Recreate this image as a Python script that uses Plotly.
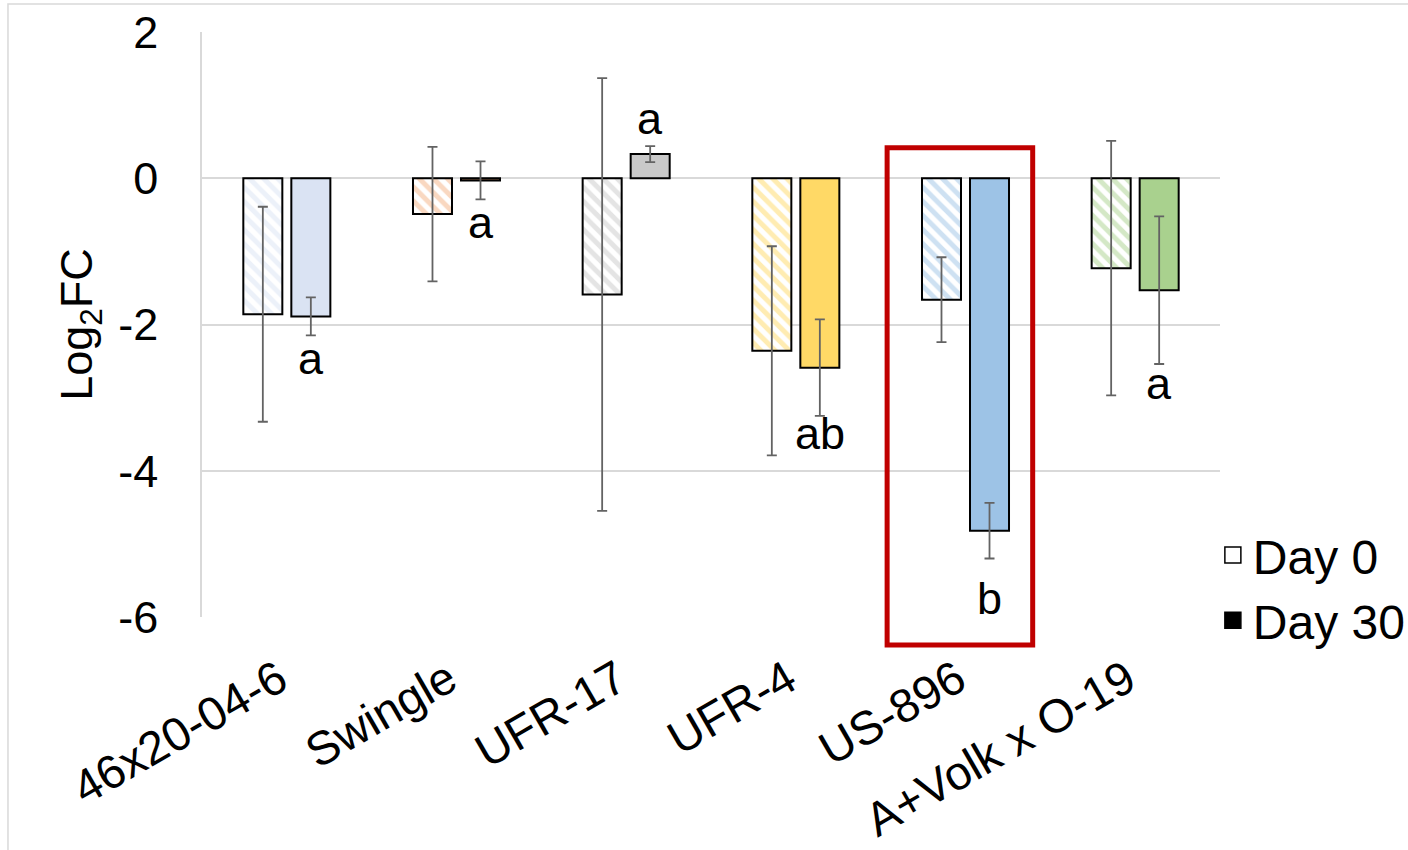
import plotly.graph_objects as go

categories = ["46x20-04-6", "Swingle", "UFR-17", "UFR-4", "US-896", "A+Volk x O-19"]
day0 = [-1.86, -0.49, -1.59, -2.36, -1.66, -1.23]
day0_err = [1.47, 0.92, 2.96, 1.43, 0.58, 1.74]
day30 = [-1.89, -0.03, 0.33, -2.59, -4.82, -1.53]
day30_err = [0.26, 0.26, 0.11, 0.66, 0.38, 1.01]
colors = ["#DAE3F3", "#F4B183", "#C9C9C9", "#FFD966", "#9DC3E6", "#A9D18E"]
letters = ["a", "a", "a", "ab", "b", "a"]
letter_y = [-2.47, -0.60, 0.82, -3.49, -5.75, -2.81]
y_ticks = [2, 0, -2, -4, -6]
y_ticktext = ["2", "0", "-2", "-4", "-6"]

FONT = "Liberation Sans, Arial, sans-serif"
FS = 45
ERR_COLOR = "#636363"

fig = go.Figure()
fig.add_trace(go.Bar(
    x=categories, y=day0, name="Day 0", showlegend=False,
    marker=dict(color="white", line=dict(color="black", width=2),
                pattern=dict(shape="\\", fgcolor=colors, bgcolor="white",
                             size=10, solidity=0.5, fillmode="overlay")),
    error_y=dict(type="data", array=day0_err, color=ERR_COLOR, thickness=1.8, width=5),
))
fig.add_trace(go.Bar(
    x=categories, y=day30, name="Day 30", showlegend=False,
    marker=dict(color=colors, line=dict(color="black", width=2)),
    error_y=dict(type="data", array=day30_err, color=ERR_COLOR, thickness=1.8, width=5),
))
# legend entries
fig.add_trace(go.Scatter(x=[None], y=[None], mode="markers", name="Day 0",
                         marker=dict(symbol="square", size=20, color="white",
                                     line=dict(color="black", width=1.5))))
fig.add_trace(go.Scatter(x=[None], y=[None], mode="markers", name="Day 30",
                         marker=dict(symbol="square", size=20, color="black",
                                     line=dict(color="black", width=1.5))))

for c, t, yy in zip(categories, letters, letter_y):
    fig.add_annotation(x=c, y=yy, text=t, showarrow=False, xshift=24,
                       font=dict(family=FONT, size=FS, color="black"))

# red highlight box around US-896
fig.add_shape(type="rect", xref="paper", yref="paper",
              x0=0.673, x1=0.816, y0=-0.048, y1=0.802,
              line=dict(color="#C00000", width=5), layer="above")
# outer chart border
fig.add_shape(type="rect", xref="paper", yref="paper",
              x0=-0.1906, x1=1.19, y0=-0.41, y1=1.0479,
              line=dict(color="#D9D9D9", width=1.5), layer="below")

fig.update_layout(
    width=1408, height=850,
    margin=dict(l=202, r=188, t=32, b=233, autoexpand=False),
    plot_bgcolor="white", paper_bgcolor="white",
    barmode="group", bargap=0.434, bargroupgap=0.1875,
    font=dict(family=FONT, size=FS, color="black"),
    legend=dict(x=0.993, y=0.05, xanchor="left", yanchor="middle",
                font=dict(family=FONT, size=48), itemsizing="trace",
                tracegroupgap=0, bgcolor="rgba(0,0,0,0)"),
    xaxis=dict(tickangle=-30, showgrid=False, showline=False, ticks="",
               tickfont=dict(family=FONT, size=47), ticklabelstandoff=25,
               ticklabelshift=-8),
    yaxis=dict(range=[-6, 2], tickvals=y_ticks, ticktext=y_ticktext, showgrid=True,
               gridcolor="#D9D9D9", gridwidth=1.5, zeroline=False,
               showline=True, linecolor="#D9D9D9", linewidth=1.5,
               ticks="", tickfont=dict(family=FONT, size=FS),
               ticklabelstandoff=33,
               title=dict(text="Log<sub>2</sub>FC", standoff=11,
                          font=dict(family=FONT, size=FS))),
)

fig.write_html("out.html")
